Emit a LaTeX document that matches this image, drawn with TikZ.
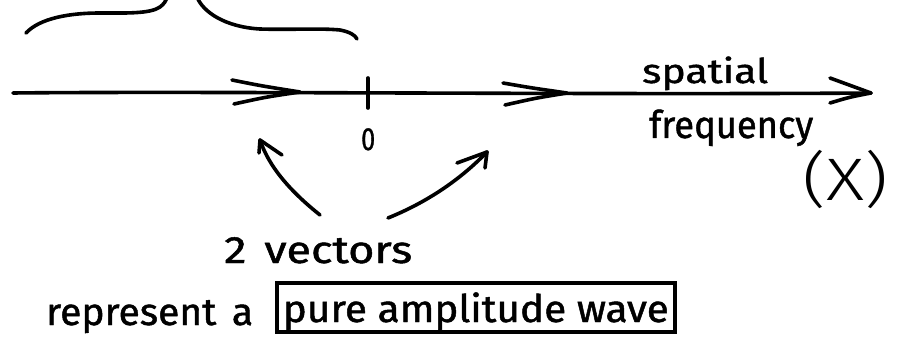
\documentclass[tikz,border=0pt]{standalone}
\usepackage{fontspec}
\setmainfont{Fira Sans}[FakeBold=1.2]
\newfontfamily\lightfont{Fira Sans Light}
\usetikzlibrary{calc}
% stretch a text to a given width, keeping its natural height
\newcommand\fitw[2]{\resizebox{#1}{\height}{#2}}
\tikzset{
  ink/.style={line width=3.6pt, line cap=round, line join=round, black},
  lbl/.style={inner sep=0pt, anchor=base west, font=\fontsize{38}{40}\selectfont},
}
\begin{document}
\begin{tikzpicture}[x=1pt,y=-1pt]
  \useasboundingbox (0,0) rectangle (898,350);
  % frequency axis
  \coordinate (axL) at (13,93);
  \coordinate (axR) at (871,93);
  \draw[ink] (axL) .. controls (200,91) and (600,95) .. (axR);
  % arrowhead at the right end of the axis
  \draw[ink] (830,78) .. controls (850,86) .. (axR) .. controls (850,97) .. (830,103);
  % arrowheads marking the two vectors on the axis
  \draw[ink] (232,80) .. controls (262,86) .. (300,92) .. controls (266,97) .. (234,104);
  \draw[ink] (503,83) .. controls (532,88) .. (567,93) .. controls (536,98) .. (505,105);
  % tick at the origin
  \coordinate (t0) at (368,78);
  \coordinate (t1) at (368,108);
  \draw[ink] (t0) -- (t1);
  \node[lbl, font=\fontsize{32}{34}\selectfont] (zero) at (361,150) {\fitw{14pt}{0}};
  % curly brace spanning the negative half
  \draw[ink] (26,33) .. controls (40,18) and (70,13) .. (100,13)
             .. controls (125,13) and (150,14) .. (160,7)
             .. controls (164,4) and (166,1) .. (167,-3);
  \draw[ink] (197,-3) .. controls (203,12) and (225,27) .. (260,29)
             .. controls (290,30) and (320,28) .. (340,30)
             .. controls (350,32) and (355,35) .. (357,39);
  % curved arrows pointing at the two vectors
  \coordinate (la0) at (320,215);
  \coordinate (la1) at (260,140);
  \coordinate (ra0) at (388,218);
  \coordinate (ra1) at (487,152);
  \draw[ink] (la0) .. controls (295,195) and (270,170) .. (la1);
  \draw[ink] (la1) -- (282,155);
  \draw[ink] (la1) -- (259,153);
  \draw[ink] (ra0) .. controls (420,205) and (455,185) .. (ra1);
  \draw[ink] (ra1) -- (457,163);
  \draw[ink] (ra1) -- (485,168);
  % labels
  \node[lbl] (vec) at (224,263) {\fitw{188pt}{2\hspace{0.4em}vectors}};
  \node[lbl] (rep) at (46,325) {\fitw{207pt}{represent\hspace{0.4em}a}};
  \node[lbl, draw, line width=3.6pt, inner xsep=6pt, inner ysep=0pt,
        text height=39pt, text depth=10pt]
       (wave) at (275,322) {\fitw{386pt}{pure amplitude wave}};
  \node[lbl, font=\fontsize{34}{36}\selectfont] (spat) at (642,83) {\fitw{126pt}{spatial}};
  \node[lbl] (freq) at (649,138) {\fitw{164pt}{frequency}};
  \node[lbl, font=\lightfont\fontsize{60}{62}\selectfont] (xvar) at (802,201) {\fitw{86pt}{(X)}};
\end{tikzpicture}
\end{document}
